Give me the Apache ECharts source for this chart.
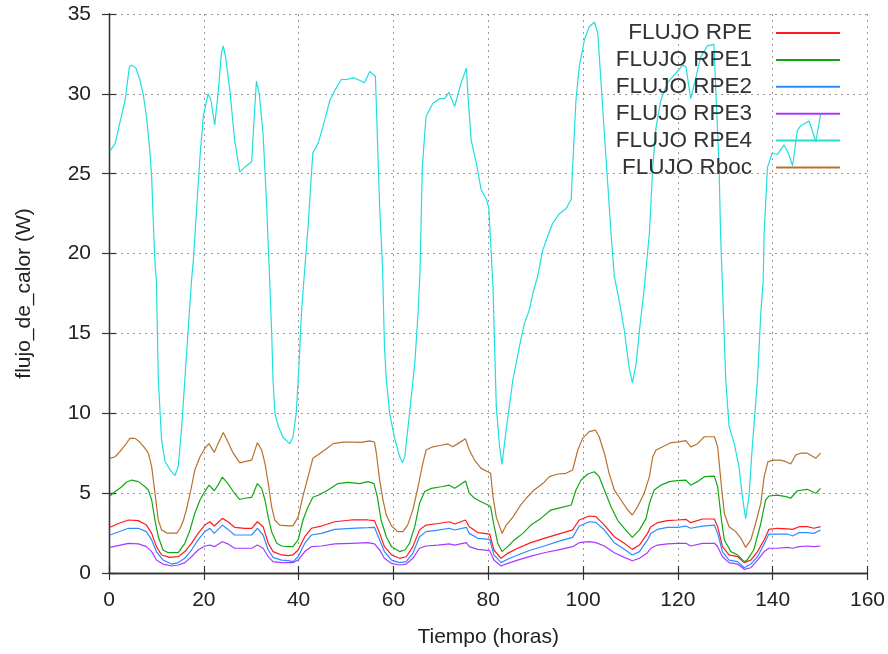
<!DOCTYPE html>
<html>
<head>
<meta charset="utf-8">
<script src="https://cdn.jsdelivr.net/npm/echarts@6/dist/echarts.min.js"></script>
<style>
html,body{margin:0;padding:0;background:#fff;}
#chart{width:888px;height:654px;}
</style>
</head>
<body>
<div id="chart"></div>
<script>
// ---- data ----
var seriesNames = ['FLUJO RPE', 'FLUJO RPE1', 'FLUJO RPE2', 'FLUJO RPE3', 'FLUJO RPE4', 'FLUJO Rboc'];

var tRPE4 = [0.2,1.3,2.3,3.4,4.3,4.8,5.7,6.5,7.2,7.9,8.6,9.0,9.3,9.7,10.0,10.4,11.1,11.8,12.9,13.9,14.6,15.3,16.0,16.7,17.4,17.8,18.5,19.2,19.9,20.9,21.5,22.3,23.0,23.7,24.1,24.6,25.5,26.5,27.6,28.6,30.1,30.5,31.1,31.7,32.5,33.2,33.9,34.3,34.6,35.0,35.7,36.7,38.1,38.8,39.5,40.1,40.6,41.1,42.0,42.7,43.0,44.1,45.1,46.6,47.6,49.0,50.1,51.5,52.5,53.9,55.0,56.2,56.7,57.1,57.7,58.1,58.5,59.2,60.2,61.3,61.9,62.4,63.4,64.5,65.2,65.6,66.1,66.6,66.9,68.3,69.7,70.8,71.7,72.9,74.3,75.4,75.7,76.4,77.5,78.5,79.6,80.1,80.6,81.0,81.7,82.4,82.9,83.8,85.2,86.6,87.6,88.7,89.4,90.4,91.5,92.5,93.6,95.0,96.4,97.5,97.8,98.5,99.2,100.3,101.3,102.4,103.1,103.8,104.5,105.2,105.9,106.6,107.6,108.7,109.7,110.4,111.2,111.9,112.9,114.0,114.7,115.4,116.4,117.8,119.6,121.0,121.7,122.7,123.8,124.8,126.2,127.6,128.1,128.7,129.0,129.4,130.1,130.8,131.9,132.9,133.6,134.3,135.0,135.7,136.8,137.5,138.0,138.2,138.9,139.9,141.0,142.4,143.3,144.2,145.2,145.9,147.7,149.1,150.1];
var vRPE4 = [26.4,26.9,28.2,29.6,31.7,31.8,31.6,30.9,30.0,28.6,26.5,24.8,22.3,19.4,18.3,12.1,8.3,7.0,6.45,6.1,6.65,9.0,12.1,15.2,18.3,19.6,22.9,26.1,28.6,30.0,29.6,28.05,30.0,32.5,33.0,32.3,30.2,27.1,25.1,25.4,25.75,27.9,30.8,30.0,27.5,23.4,18.3,15.2,12.1,10.0,9.2,8.5,8.1,8.5,10.0,13.1,16.3,18.3,21.7,25.0,26.3,26.9,27.9,29.6,30.2,30.9,30.9,31.0,30.9,30.7,31.4,31.1,26.5,22.9,19.2,14.2,12.1,10.0,8.5,7.3,6.9,7.3,10.0,13.1,16.3,18.8,25.4,27.5,28.6,29.4,29.7,29.7,30.1,29.2,30.7,31.6,30.0,27.1,25.65,24.0,23.4,22.9,20.2,17.9,10.4,7.9,6.8,9.0,12.1,14.2,15.6,16.5,17.5,18.55,20.2,21.05,21.9,22.5,22.8,23.4,25.4,29.6,31.7,33.4,34.2,34.5,33.8,30.7,27.5,24.4,21.3,18.55,17.1,15.2,12.9,11.9,13.1,15.2,17.8,21.3,25.4,27.9,29.6,30.7,31.3,31.8,31.7,29.7,31.0,32.3,33.0,33.1,29.6,25.4,21.3,18.0,12.1,9.2,8.1,6.65,4.8,3.4,4.8,7.9,12.1,16.3,18.3,21.3,25.4,26.3,26.2,26.8,26.3,25.5,27.7,28.0,28.3,27.0,28.7];

var tRboc = [0.2,1.3,2.3,3.4,4.4,5.5,6.5,7.6,8.3,9.0,9.7,10.4,11.1,12.2,14.3,15.0,15.7,16.4,17.4,18.1,19.2,20.2,21.1,22.2,23.0,24.1,25.1,26.2,27.6,28.6,30.1,31.3,32.2,32.9,33.6,34.3,35.0,36.0,37.8,38.8,39.9,40.9,42.0,43.0,44.1,45.5,47.3,49.4,51.1,53.2,55.0,56.0,56.4,57.1,57.8,58.5,59.6,60.9,62.0,63.0,64.1,65.2,66.2,66.9,68.3,70.1,71.5,72.5,73.6,75.2,76.0,77.1,78.5,79.9,80.5,81.0,81.7,82.9,83.8,85.2,86.6,88.0,89.7,91.5,92.9,94.7,96.4,97.8,98.9,99.9,101.3,102.6,103.4,104.5,105.5,106.6,108.0,109.4,110.4,111.5,112.9,114.0,114.7,115.4,116.8,118.5,119.9,121.7,122.7,124.1,125.6,127.7,128.4,129.2,129.8,130.8,132.2,133.3,134.3,135.4,136.4,137.5,138.2,139.0,140.3,141.7,142.8,143.8,144.9,145.9,147.3,149.1,150.1];
var vRboc = [7.18,7.28,7.6,8.0,8.43,8.43,8.2,7.8,7.5,6.66,5.0,3.3,2.7,2.5,2.5,2.8,3.3,4.05,5.4,6.45,7.28,7.8,8.1,7.55,8.1,8.8,8.2,7.5,6.9,6.97,7.07,8.16,7.7,6.87,5.6,4.15,3.3,3.0,2.95,2.95,3.5,4.8,6.03,7.18,7.4,7.7,8.1,8.2,8.2,8.18,8.27,8.2,7.5,5.8,4.57,3.63,2.94,2.59,2.59,3.0,3.95,5.4,6.87,7.7,7.9,8.0,8.08,7.9,8.1,8.4,7.7,7.07,6.55,6.34,6.24,4.78,3.5,2.48,3.0,3.5,4.15,4.68,5.2,5.6,6.03,6.2,6.24,6.45,7.7,8.43,8.85,8.95,8.53,7.5,6.24,5.2,4.57,3.95,3.63,4.15,5.0,6.03,7.28,7.7,7.9,8.16,8.2,8.29,7.9,8.08,8.53,8.53,7.9,5.4,3.74,2.9,2.59,2.17,1.6,2.07,3.1,4.36,6.03,6.97,7.07,7.07,6.97,6.82,7.4,7.5,7.5,7.18,7.5];

var tRPE1 = [0.2,1.3,2.7,3.7,4.8,6.2,7.6,8.3,9.0,9.7,10.4,11.4,12.5,14.6,16.0,17.1,18.1,19.2,20.2,21.1,22.2,23.0,23.9,25.1,26.2,27.6,28.6,30.1,31.3,32.2,32.9,33.6,34.3,35.4,36.4,37.8,38.8,39.9,40.9,42.0,43.0,44.4,46.2,48.3,50.4,52.9,54.6,55.9,56.6,57.4,58.5,59.6,61.3,62.4,63.4,64.5,65.5,66.6,68.0,70.1,71.8,72.9,73.9,75.2,76.0,77.1,78.5,79.9,80.5,81.0,82.0,82.9,84.1,85.5,87.3,89.0,91.1,93.2,95.3,97.5,98.5,99.6,101.0,102.4,103.4,104.5,105.9,107.3,108.7,110.4,111.9,113.3,114.0,115.0,116.4,118.2,119.9,121.7,122.7,124.1,125.6,127.7,128.4,129.2,129.8,131.2,132.6,134.0,134.6,136.0,137.5,138.5,139.2,141.0,142.8,143.8,145.2,147.3,149.1,150.1];
var vRPE1 = [4.82,5.1,5.4,5.7,5.82,5.72,5.4,5.2,4.57,3.3,2.27,1.44,1.27,1.27,1.86,2.7,3.74,4.57,5.1,5.5,5.15,5.5,6.0,5.6,5.1,4.6,4.68,4.74,5.6,5.3,4.57,3.5,2.59,1.86,1.69,1.65,1.65,2.07,3.3,4.15,4.74,4.9,5.2,5.6,5.68,5.6,5.72,5.6,4.78,3.3,2.27,1.65,1.34,1.44,1.86,2.9,4.36,5.1,5.3,5.4,5.5,5.3,5.5,5.76,5.0,4.68,4.46,4.26,4.15,3.3,1.86,1.34,1.65,2.07,2.48,3.0,3.42,3.94,4.09,4.26,5.2,5.82,6.2,6.34,6.03,5.2,4.15,3.3,2.8,2.23,2.7,3.42,4.36,5.2,5.5,5.72,5.78,5.82,5.5,5.72,6.03,6.07,5.4,3.3,2.07,1.34,1.13,0.71,0.81,1.44,3.1,4.57,4.82,4.88,4.78,4.68,5.15,5.24,4.99,5.3];

var tRPE = [0.2,2.0,4.1,6.2,7.9,9.0,10.0,11.1,12.8,14.6,16.0,17.4,18.8,20.2,21.3,22.2,23.9,25.1,26.5,28.6,30.1,31.3,32.5,33.6,34.6,36.4,37.8,38.8,39.9,41.3,42.7,44.8,47.6,51.1,54.6,56.0,57.1,58.1,59.6,61.3,62.7,64.1,65.5,66.9,69.4,71.8,72.9,75.2,76.0,77.8,80.3,81.2,82.7,84.1,86.2,89.0,91.8,95.3,97.8,99.2,101.3,102.7,104.5,106.6,108.7,110.4,111.9,113.6,114.3,115.7,117.8,119.9,121.7,122.7,125.2,127.7,128.4,129.4,130.8,132.6,134.0,135.4,136.8,138.2,139.2,141.0,143.1,144.2,145.6,147.3,148.7,150.1];
var vRPE = [2.86,3.1,3.32,3.28,3.0,2.48,1.65,1.13,0.98,1.02,1.34,1.86,2.48,3.0,3.21,2.94,3.42,3.21,2.86,2.8,2.8,3.21,2.9,1.86,1.34,1.13,1.09,1.13,1.44,2.27,2.8,2.94,3.21,3.32,3.32,3.28,2.48,1.65,1.13,0.92,1.02,1.65,2.7,3.0,3.1,3.21,3.07,3.32,2.9,2.53,2.44,1.44,0.92,1.23,1.55,1.9,2.17,2.48,2.7,3.32,3.57,3.53,3.0,2.27,1.86,1.48,1.75,2.48,2.9,3.15,3.28,3.32,3.36,3.15,3.38,3.38,2.9,1.65,1.13,1.02,0.65,0.81,1.34,2.07,2.73,2.8,2.76,2.73,2.9,2.9,2.8,2.9];

var tRPE23 = [0.2,4.1,6.2,7.9,9.0,10.0,11.4,13.2,14.6,16.0,17.4,18.8,20.2,21.3,22.2,23.9,25.1,26.5,30.1,31.3,32.5,33.6,34.6,36.4,37.8,38.8,39.9,41.3,42.7,44.8,47.6,51.1,54.6,56.0,57.1,58.1,59.6,61.3,62.7,64.1,65.5,66.9,69.4,71.8,72.9,75.4,76.0,77.8,80.3,81.2,82.7,84.1,86.2,89.0,91.8,95.3,97.8,99.2,101.3,102.7,104.5,106.6,108.7,110.4,111.9,113.6,114.3,115.7,117.8,119.9,121.7,122.7,125.2,127.7,128.4,129.4,130.8,132.6,134.0,135.4,136.8,138.2,139.2,141.0,143.1,144.2,145.6,147.3,148.7,150.1];
var vRPE2 = [2.38,2.8,2.8,2.59,2.07,1.34,0.81,0.56,0.65,0.92,1.44,2.07,2.59,2.8,2.48,3.0,2.73,2.38,2.38,2.8,2.38,1.44,0.98,0.81,0.77,0.71,1.02,1.86,2.38,2.48,2.73,2.8,2.84,2.86,2.07,1.34,0.81,0.65,0.71,1.23,2.27,2.59,2.69,2.8,2.69,2.86,2.48,2.17,2.11,1.13,0.65,0.86,1.13,1.44,1.69,2.03,2.23,2.94,3.21,3.17,2.69,1.9,1.48,1.13,1.34,2.07,2.48,2.73,2.86,2.86,2.94,2.8,2.94,3.0,2.48,1.34,0.81,0.71,0.33,0.56,1.02,1.82,2.44,2.44,2.44,2.32,2.53,2.53,2.48,2.69];
var vRPE3 = [1.6,1.86,1.82,1.65,1.34,0.81,0.56,0.44,0.5,0.65,1.02,1.44,1.69,1.75,1.65,1.96,1.82,1.55,1.55,1.75,1.55,1.02,0.71,0.65,0.65,0.65,0.81,1.34,1.65,1.69,1.82,1.86,1.9,1.82,1.44,0.92,0.6,0.5,0.56,0.92,1.55,1.69,1.75,1.82,1.75,1.9,1.65,1.48,1.4,0.81,0.44,0.6,0.81,1.06,1.27,1.48,1.65,1.9,1.96,1.9,1.69,1.27,0.98,0.77,0.92,1.27,1.55,1.75,1.82,1.86,1.86,1.69,1.86,1.86,1.65,1.02,0.65,0.56,0.23,0.33,0.81,1.34,1.55,1.55,1.6,1.55,1.65,1.69,1.65,1.69];

var xTicks = {min: 0, max: 160, step: 20};
var yTicks = {min: 0, max: 35, step: 5};

// ---- chart ----
function pairs(t, v) { return t.map(function (x, i) { return [x, v[i]]; }); }

var colors = ['#ff1a1a', '#10a810', '#2a8cff', '#a838ff', '#20dede', '#b8702c'];
var seriesData = [pairs(tRPE, vRPE), pairs(tRPE1, vRPE1), pairs(tRPE23, vRPE2), pairs(tRPE23, vRPE3), pairs(tRPE4, vRPE4), pairs(tRboc, vRboc)];

var FONT = 'Liberation Sans';
var txt = '#222';
var frame = {show: true, lineStyle: {color: '#333', width: 1.3}};
var tickIn = {show: true, inside: true, length: 7, lineStyle: {color: '#333', width: 1.2}};
var grid = {show: true, lineStyle: {color: '#9a9a9a', width: 1, type: [2, 4]}};

var chart = echarts.init(document.getElementById('chart'), null, {renderer: 'canvas'});
chart.setOption({
  animation: false,
  backgroundColor: '#fff',
  color: colors,
  grid: {left: 109, right: 20, top: 14, bottom: 81, containLabel: false},
  legend: {
    orient: 'vertical', right: 48, top: 21.5, align: 'right',
    itemWidth: 64, itemHeight: 2, itemGap: 3.9, icon: 'rect',
    padding: 0,
    textStyle: {fontFamily: FONT, fontSize: 22.5, lineHeight: 20.5, color: '#333', padding: [0, 19, 0, 0]},
    data: seriesNames
  },
  xAxis: [{
    type: 'value', min: xTicks.min, max: xTicks.max, interval: xTicks.step, position: 'bottom',
    axisLine: frame, axisTick: tickIn, splitLine: grid,
    axisLabel: {fontFamily: FONT, fontSize: 21, color: txt, margin: 17},
    name: 'Tiempo (horas)', nameLocation: 'middle', nameGap: 54,
    nameTextStyle: {fontFamily: FONT, fontSize: 21, color: txt}
  }, {
    type: 'value', min: xTicks.min, max: xTicks.max, interval: xTicks.step, position: 'top',
    axisLine: frame, axisTick: tickIn, splitLine: {show: false}, axisLabel: {show: false}
  }],
  yAxis: [{
    type: 'value', min: yTicks.min, max: yTicks.max, interval: yTicks.step, position: 'left',
    axisLine: frame, axisTick: tickIn, splitLine: grid,
    axisLabel: {fontFamily: FONT, fontSize: 21, color: txt, margin: 18},
    name: 'flujo_de_calor (W)', nameLocation: 'middle', nameGap: 74,
    nameTextStyle: {fontFamily: FONT, fontSize: 21, color: txt}
  }, {
    type: 'value', min: yTicks.min, max: yTicks.max, interval: yTicks.step, position: 'right',
    axisLine: frame, axisTick: tickIn, splitLine: {show: false}, axisLabel: {show: false}
  }],
  series: seriesNames.map(function (n, i) {
    return {
      name: n, type: 'line', xAxisIndex: 0, yAxisIndex: 0,
      data: seriesData[i], showSymbol: false, symbol: 'none',
      lineStyle: {width: 1.2, color: colors[i]}, itemStyle: {color: colors[i]},
      emphasis: {disabled: true}
    };
  })
});
</script>
</body>
</html>
